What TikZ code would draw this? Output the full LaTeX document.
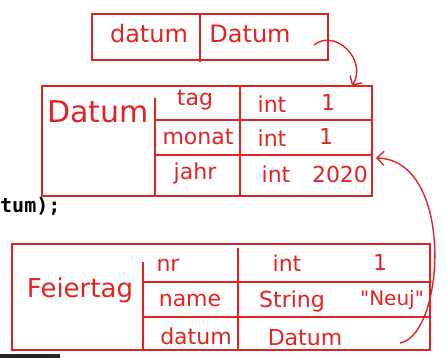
\documentclass[tikz,border=0pt]{standalone}
\usepackage{fontspec}
\newfontfamily\handfont{DejaVu Sans}
\newfontfamily\codefont{DejaVu Sans Mono}
\usetikzlibrary{arrows.meta}
\definecolor{penred}{RGB}{225,35,35}

\begin{document}
\begin{tikzpicture}[x=1pt, y=-1pt,
    pen/.style={draw=penred, line width=1.4pt},
    box/.style={pen, rectangle, inner sep=0pt},
    hand/.style={text=penred, inner sep=0pt, font=\handfont\fontsize{22}{22}\selectfont},
    bighand/.style={hand, font=\handfont\fontsize{28}{28}\selectfont},
    refarrow/.style={pen, -{Straight Barb[length=7pt, width=14pt]}}]
    \useasboundingbox (0,0) rectangle (447,358);

    % Reference variable
    \node[box, minimum width=236pt, minimum height=46pt] (refbox) at (210,37) {};
    \draw[pen] (200,14) -- (200,62);
    \node[hand, font=\handfont\fontsize{24}{24}\selectfont] (refname) at (149,34) {datum};
    \node[hand, font=\handfont\fontsize{24}{24}\selectfont] (reftype) at (250,34) {Datum};

    % Object Datum
    \node[box, minimum width=330pt, minimum height=110pt] (datumobj) at (207,141) {};
    \draw[pen] (155,98) -- (155,196);
    \draw[pen] (240,86) -- (240,196);
    \draw[pen] (155,120) -- (372,120);
    \draw[pen] (155,155) -- (372,155);
    \node[bighand, font=\handfont\fontsize{30}{30}\selectfont] (datumlabel) at (98,112) {Datum};
    \node[hand] (tagname) at (195,100) {tag};
    \node[hand] (tagtype) at (272,104) {int};
    \node[hand] (tagval) at (328,102) {1};
    \node[hand] (monatname) at (198,137) {monat};
    \node[hand] (monattype) at (272,138) {int};
    \node[hand] (monatval) at (326,136) {1};
    \node[hand] (jahrname) at (195,173) {jahr};
    \node[hand] (jahrtype) at (276,174) {int};
    \node[hand] (jahrval) at (340,174) {2020};

    % Object Feiertag
    \node[box, minimum width=418pt, minimum height=106pt] (feierobj) at (221,297) {};
    \draw[pen] (143,262) -- (143,350);
    \draw[pen] (238,248) -- (238,350);
    \draw[pen] (143,282) -- (430,282);
    \draw[pen] (143,317) -- (430,317);
    \node[bighand, font=\handfont\fontsize{26}{26}\selectfont] (feierlabel) at (80,290) {Feiertag};
    \node[hand] (nrname) at (168,265) {nr};
    \node[hand] (nrtype) at (287,263) {int};
    \node[hand] (nrval) at (380,262) {1};
    \node[hand] (namename) at (190,300) {name};
    \node[hand] (nametype) at (292,301) {String};
    \node[hand, font=\handfont\fontsize{20}{20}\selectfont] (nameval) at (392,300) {"Neuj"};
    \node[hand] (datumname) at (196,336) {datum};
    \node[hand] (datumtype) at (305,338) {Datum};

    % References
    \coordinate (refstart) at (314,45);
    \coordinate (datumtop) at (352,86);
    \draw[refarrow] (refstart) .. controls (335,28) and (368,60) .. (datumtop);
    \coordinate (feierstart) at (400,343);
    \coordinate (datumright) at (376,158);
    \draw[refarrow] (feierstart) .. controls (445,335) and (455,160) .. (datumright);

    % Code fragment
    \node[anchor=west, inner sep=0pt, font=\codefont\bfseries\fontsize{20}{20}\selectfont] (codeline) at (0,206) {tum);};
    \fill[black!85] (0,354) rectangle (60,358);
\end{tikzpicture}
\end{document}
